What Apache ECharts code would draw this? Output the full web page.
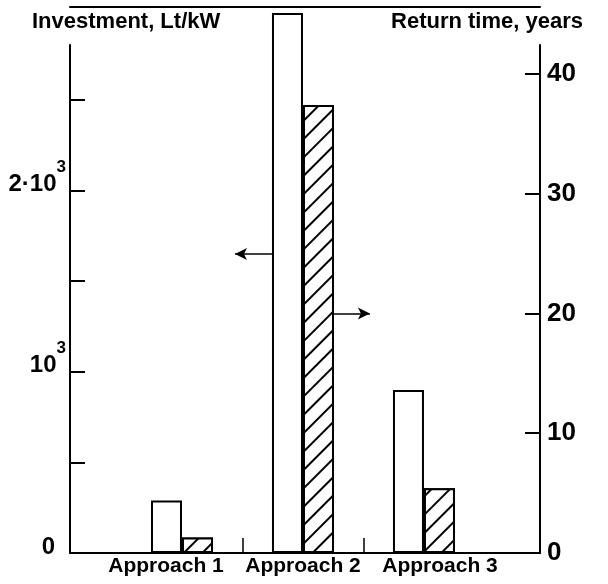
<!DOCTYPE html>
<html>
<head>
<meta charset="utf-8">
<script src="https://cdn.jsdelivr.net/npm/echarts@6/dist/echarts.min.js"></script>
<style>html,body{margin:0;padding:0;background:#fff}#c{width:608px;height:584px}</style>
</head>
<body>
<div id="c"></div>
<script>
// ---- data ----
const categories = ['Approach 1', 'Approach 2', 'Approach 3'];
const investment = [290, 2980, 900];      // Lt/kW (left axis)
const returnTime = [1.3, 37.4, 5.4];      // years (right axis)
const leftLabelValues = [0, 1000, 2000];
const leftTickValues = [500, 1000, 1500, 2000, 2500];
const rightLabelValues = [0, 10, 20, 30, 40];
const rightTickValues = [10, 20, 30, 40];
const separatorValues = [1.5, 2.5];

// ---- layout ----
const W = 608, H = 584;
const G0 = {left: 70, right: 68, top: 7, bottom: 31};   // bars, full height
const G1 = {left: 70, right: 68, top: 45, bottom: 31};  // visible value axes
const H0 = H - G0.top - G0.bottom, H1 = H - G1.top - G1.bottom;
const LEFT_MAX = 3013, RIGHT_MAX = 45.58;
const X_MIN = 0.0744, X_MAX = 3.959;
const PX_PER_X = (W - G0.left - G0.right) / (X_MAX - X_MIN);
const BAR_W = 31;
const FONT = '"Liberation Sans", Arial, sans-serif';

const chart = echarts.init(document.getElementById('c'), null, {renderer: 'canvas'});
const lineStyle = {color: '#000', width: 2};
const arrowLine = {
  silent: true, symbol: ['none', 'arrow'], symbolSize: [9, 12],
  label: {show: false},
  lineStyle: {color: '#000', width: 1.5, type: 'solid'}
};

const option = {
  animation: false,
  backgroundColor: '#fff',
  textStyle: {fontFamily: FONT, color: '#000'},
  title: [
    {text: 'Investment, Lt/kW', left: 32, top: 11, padding: 0,
     textStyle: {fontFamily: FONT, fontSize: 22, fontWeight: 'bold', color: '#000'}},
    {text: 'Return time, years', right: 25, top: 11, padding: 0,
     textStyle: {fontFamily: FONT, fontSize: 22, fontWeight: 'bold', color: '#000'}}
  ],
  grid: [G0, G1],
  xAxis: [
    {
      gridIndex: 0, type: 'value', min: X_MIN, max: X_MAX, position: 'bottom',
      axisLine: {show: true, onZero: false, lineStyle: lineStyle},
      axisTick: {show: true, inside: true, length: 15, customValues: separatorValues,
                 lineStyle: {color: '#000', width: 1.5}},
      axisLabel: {
        customValues: categories.map((c, i) => i + 1),
        margin: 3,
        formatter: function (v) {
          const i = Math.round(v) - 1;
          return '{a' + i + '|' + categories[i] + '}';
        },
        rich: {
          a0: {fontFamily: FONT, fontSize: 21, fontWeight: 'bold', color: '#000', padding: [0, 32, 0, 0]},
          a1: {fontFamily: FONT, fontSize: 21, fontWeight: 'bold', color: '#000'},
          a2: {fontFamily: FONT, fontSize: 21, fontWeight: 'bold', color: '#000', padding: [0, 0, 0, 32]}
        }
      },
      splitLine: {show: false}
    },
    {
      gridIndex: 0, type: 'value', min: X_MIN, max: X_MAX, position: 'top',
      axisLine: {show: true, onZero: false, lineStyle: lineStyle},
      axisTick: {show: false}, axisLabel: {show: false}, splitLine: {show: false}
    },
    {
      gridIndex: 1, type: 'value', min: X_MIN, max: X_MAX, show: false
    }
  ],
  yAxis: [
    {
      gridIndex: 1, type: 'value', position: 'left', min: 0, max: LEFT_MAX * H1 / H0,
      axisLine: {show: true, onZero: false, lineStyle: lineStyle},
      axisTick: {show: true, inside: true, length: 15, customValues: leftTickValues,
                 lineStyle: {color: '#000', width: 2}},
      axisLabel: {
        customValues: leftLabelValues, margin: 4, padding: [0, 0, 13, 0],
        formatter: function (v) {
          if (v === 0) return '{z|0}';
          if (v === 1000) return '{b|10}{s|3}';
          return '{b|2·10}{s|3}';
        },
        rich: {
          b: {fontFamily: FONT, fontSize: 24, fontWeight: 'bold', color: '#000', lineHeight: 25, verticalAlign: 'bottom'},
          s: {fontFamily: FONT, fontSize: 17, fontWeight: 'bold', color: '#000', lineHeight: 17, verticalAlign: 'bottom', padding: [0, 0, 21, 0]},
          z: {fontFamily: FONT, fontSize: 24, fontWeight: 'bold', color: '#000', lineHeight: 25, verticalAlign: 'bottom', padding: [0, 11, 0, 0]}
        }
      },
      splitLine: {show: false}
    },
    {
      gridIndex: 1, type: 'value', position: 'right', min: 0, max: RIGHT_MAX * H1 / H0,
      axisLine: {show: true, onZero: false, lineStyle: lineStyle},
      axisTick: {show: true, inside: true, length: 15, customValues: rightTickValues,
                 lineStyle: {color: '#000', width: 2}},
      axisLabel: {
        customValues: rightLabelValues, margin: 7,
        fontFamily: FONT, fontSize: 26, fontWeight: 'bold', color: '#000'
      },
      splitLine: {show: false}
    },
    {gridIndex: 0, type: 'value', position: 'left', min: 0, max: LEFT_MAX, show: false},
    {gridIndex: 0, type: 'value', position: 'right', min: 0, max: RIGHT_MAX, show: false}
  ],
  series: [
    {
      name: 'Investment', type: 'bar', xAxisIndex: 0, yAxisIndex: 2,
      barWidth: BAR_W, barGap: '0%',
      data: categories.map((c, i) => [i + 1, investment[i]]),
      itemStyle: {color: '#fff', borderColor: '#000', borderWidth: 2},
      // marker coords are shifted by the bar's own offset (half a bar to the left)
      markLine: Object.assign({}, arrowLine, {
        data: [[{coord: [2 - (BAR_W / 2) / PX_PER_X, 1650]}, {coord: [1.566, 1650]}]]
      })
    },
    {
      name: 'Return time', type: 'bar', xAxisIndex: 0, yAxisIndex: 3,
      barWidth: BAR_W, barGap: '0%',
      data: categories.map((c, i) => [i + 1, returnTime[i]]),
      itemStyle: {
        color: '#fff', borderColor: '#000', borderWidth: 2,
        decal: {symbol: 'rect', symbolSize: 1, color: '#000', backgroundColor: '#fff',
                dashArrayX: [1, 0], dashArrayY: [1.6, 10.5], rotation: -Math.PI / 4}
      },
      markLine: Object.assign({}, arrowLine, {
        data: [[{coord: [2 + (BAR_W / 2) / PX_PER_X, 20]}, {coord: [2.425, 20]}]]
      })
    }
  ]
};
chart.setOption(option);
</script>
</body>
</html>
